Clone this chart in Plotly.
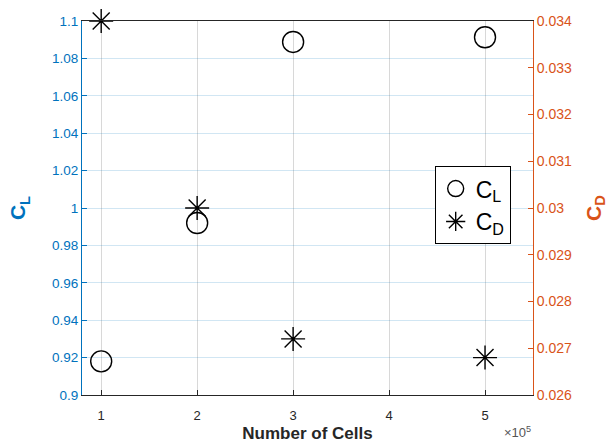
import plotly.graph_objects as go

cells = [1, 2, 3, 5]
cl_values = [0.918, 0.992, 1.0888, 1.0913]
cd_values = [0.0340, 0.0300, 0.0272, 0.0268]

x_ticks = [1, 2, 3, 4, 5]
cl_ticks = [0.9, 0.92, 0.94, 0.96, 0.98, 1.0, 1.02, 1.04, 1.06, 1.08, 1.1]
cl_tick_text = ["0.9", "0.92", "0.94", "0.96", "0.98", "1", "1.02", "1.04", "1.06", "1.08", "1.1"]
cd_ticks = [0.026, 0.027, 0.028, 0.029, 0.030, 0.031, 0.032, 0.033, 0.034]
cd_tick_text = ["0.026", "0.027", "0.028", "0.029", "0.03", "0.031", "0.032", "0.033", "0.034"]

BLUE = "#0072BD"
ORANGE = "#D95319"
DARK = "#262626"
FONT = "Liberation Sans, Arial, sans-serif"

fig = go.Figure()
fig.add_trace(go.Scatter(
    x=cells, y=cl_values, mode="markers", name="C<sub>L</sub>",
    marker=dict(symbol="circle-open", size=21, color="black", line=dict(width=1.4)),
    yaxis="y", cliponaxis=False,
))
fig.add_trace(go.Scatter(
    x=cells, y=cd_values, mode="markers", name="C<sub>D</sub>",
    marker=dict(symbol="asterisk-open", size=20, color="black", line=dict(width=1.4)),
    yaxis="y2", cliponaxis=False,
))

fig.update_layout(
    width=608, height=443,
    margin=dict(l=82, r=75, t=21, b=48, autoexpand=False),
    paper_bgcolor="white", plot_bgcolor="white",
    font=dict(family=FONT, size=12, color=DARK),
    showlegend=True,
    legend=dict(
        x=0.782, y=0.612, xanchor="left", yanchor="top",
        bgcolor="white", bordercolor="black", borderwidth=1,
        font=dict(size=23, color="black"),
        itemsizing="trace", tracegroupgap=2,
    ),
    xaxis=dict(
        range=[0.8, 5.5], tickvals=x_ticks, ticktext=[str(v) for v in x_ticks],
        ticks="inside", ticklen=5, tickcolor=DARK,
        showline=True, linecolor=DARK, linewidth=1, mirror=True,
        showgrid=True, gridcolor="rgba(38,38,38,0.18)", gridwidth=1,
        zeroline=False, tickfont=dict(size=13, color=DARK),
        ticklabelstandoff=8, automargin=False,
        title=dict(text="<b>Number of Cells</b>", font=dict(size=17, color=DARK), standoff=6),
    ),
    yaxis=dict(
        range=[0.9, 1.1], tickvals=cl_ticks, ticktext=cl_tick_text,
        ticks="inside", ticklen=5, tickcolor=BLUE,
        showline=True, linecolor=BLUE, linewidth=1,
        showgrid=True, gridcolor="rgba(0,114,189,0.18)", gridwidth=1,
        zeroline=False, tickfont=dict(size=13.5, color=BLUE), automargin=False,
        title=dict(text="<b>C<sub>L</sub></b>", font=dict(size=21, color=BLUE), standoff=20),
    ),
    yaxis2=dict(
        range=[0.026, 0.034], tickvals=cd_ticks, ticktext=cd_tick_text,
        overlaying="y", side="right",
        ticks="inside", ticklen=5, tickcolor=ORANGE,
        showline=True, linecolor=ORANGE, linewidth=1,
        showgrid=False, zeroline=False, automargin=False,
        tickfont=dict(size=14, color=ORANGE),
        title=dict(text="<b>C<sub>D</sub></b>", font=dict(size=21, color=ORANGE), standoff=20),
    ),
)

fig.add_annotation(
    x=1.0, y=0, xref="paper", yref="paper", xanchor="right", yanchor="top",
    yshift=-27, text="×10<sup>5</sup>", showarrow=False,
    font=dict(size=13, color="#555555"),
)

fig.write_html("out.html")
